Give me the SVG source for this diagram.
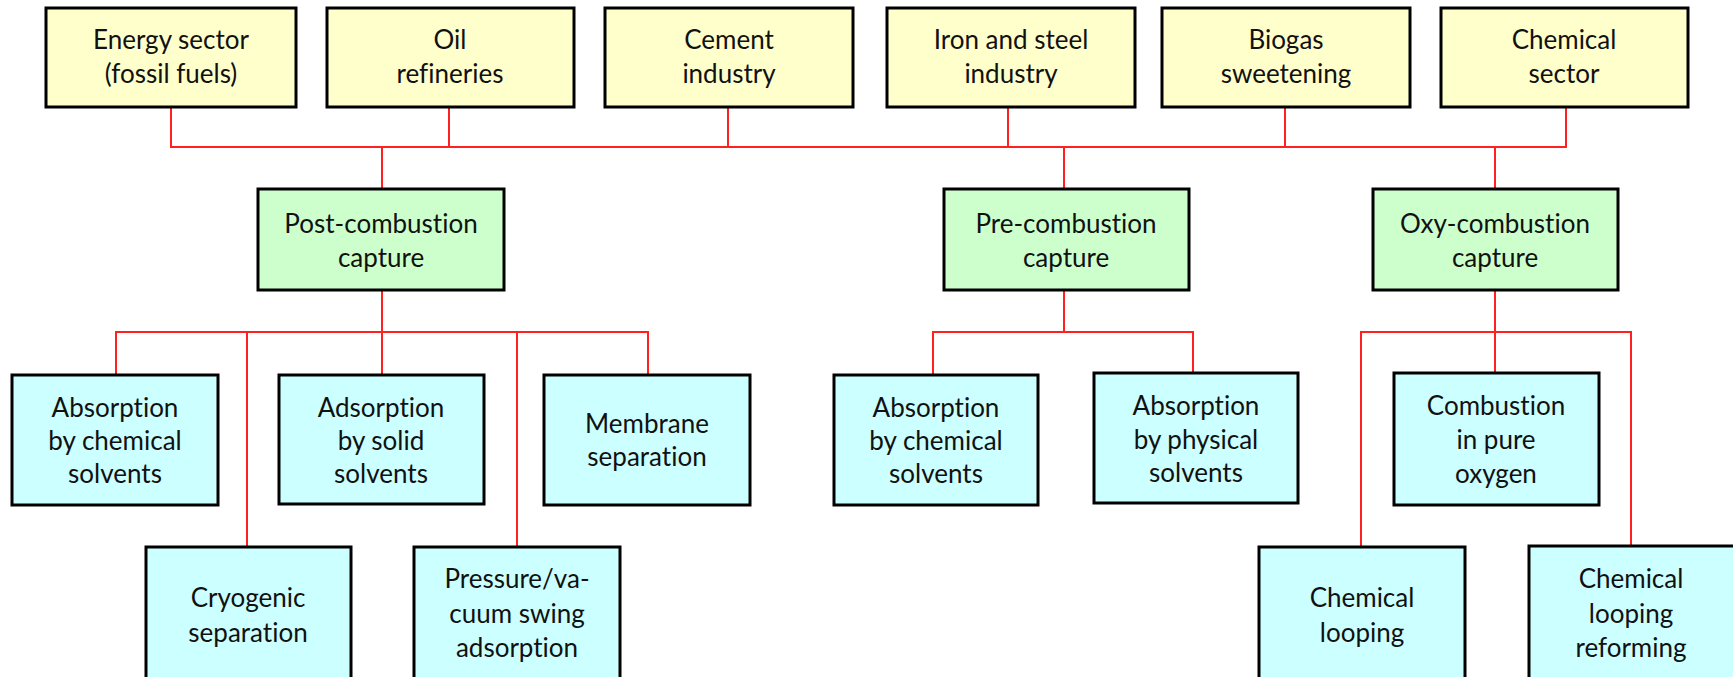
<svg xmlns="http://www.w3.org/2000/svg" width="1733" height="677" viewBox="0 0 1733 677">
<style>
.box{stroke:#000;stroke-width:3}
.y{fill:#FFFFCC}
.g{fill:#CCFFCC}
.c{fill:#CCFFFF}
text{font-family:Lato,"Liberation Sans",sans-serif;font-size:26px;fill:#111;text-anchor:middle;font-variant-ligatures:none;font-feature-settings:"liga" 0}
#connectors path{fill:none;stroke:#FF2020;stroke-width:2}
</style>
<rect width="1733" height="677" fill="#fff"/>
<g id="connectors">
<path d="M171 107V147H1566V107M449 107V147M728 107V147M1008 107V147M1285 107V147"/>
<path d="M382 147V189M1064 147V189M1495 147V189"/>
<path d="M382 290V332M116 375V332H648V375M247 332V547M382 332V375M517 332V547"/>
<path d="M1064 290V332M933 375V332H1193V373"/>
<path d="M1495 290V332M1361 547V332H1631V546M1495 332V373"/>
</g>
<g id="energy"><rect class="box y" x="46" y="8" width="250" height="99"/><text x="171" y="49">Energy sector</text><text x="171" y="83">(fossil fuels)</text></g>
<g id="oil"><rect class="box y" x="327" y="8" width="247" height="99"/><text x="450" y="49">Oil</text><text x="450" y="83">refineries</text></g>
<g id="cement"><rect class="box y" x="605" y="8" width="248" height="99"/><text x="729" y="49">Cement</text><text x="729" y="83">industry</text></g>
<g id="iron"><rect class="box y" x="887" y="8" width="248" height="99"/><text x="1011" y="49">Iron and steel</text><text x="1011" y="83">industry</text></g>
<g id="biogas"><rect class="box y" x="1162" y="8" width="248" height="99"/><text x="1286" y="49">Biogas</text><text x="1286" y="83">sweetening</text></g>
<g id="chemical"><rect class="box y" x="1441" y="8" width="247" height="99"/><text x="1564" y="49">Chemical</text><text x="1564" y="83">sector</text></g>
<g id="post"><rect class="box g" x="258" y="189" width="246" height="101"/><text x="381" y="233">Post-combustion</text><text x="381" y="267">capture</text></g>
<g id="pre"><rect class="box g" x="944" y="189" width="245" height="101"/><text x="1066" y="233">Pre-combustion</text><text x="1066" y="267">capture</text></g>
<g id="oxy"><rect class="box g" x="1373" y="189" width="245" height="101"/><text x="1495" y="233">Oxy-combustion</text><text x="1495" y="267">capture</text></g>
<g id="abs-chem-post"><rect class="box c" x="12" y="375" width="206" height="130"/><text x="115" y="417">Absorption</text><text x="115" y="450">by chemical</text><text x="115" y="483">solvents</text></g>
<g id="ads-solid"><rect class="box c" x="279" y="375" width="205" height="129"/><text x="381" y="417">Adsorption</text><text x="381" y="450">by solid</text><text x="381" y="483">solvents</text></g>
<g id="membrane"><rect class="box c" x="544" y="375" width="206" height="130"/><text x="647" y="433">Membrane</text><text x="647" y="466">separation</text></g>
<g id="cryogenic"><rect class="box c" x="146" y="547" width="205" height="140"/><text x="248" y="607">Cryogenic</text><text x="248" y="642">separation</text></g>
<g id="psa"><rect class="box c" x="414" y="547" width="206" height="140"/><text x="517" y="588">Pressure/va-</text><text x="517" y="623">cuum swing</text><text x="517" y="657">adsorption</text></g>
<g id="abs-chem-pre"><rect class="box c" x="834" y="375" width="204" height="130"/><text x="936" y="417">Absorption</text><text x="936" y="450">by chemical</text><text x="936" y="483">solvents</text></g>
<g id="abs-phys"><rect class="box c" x="1094" y="373" width="204" height="130"/><text x="1196" y="415">Absorption</text><text x="1196" y="449">by physical</text><text x="1196" y="482">solvents</text></g>
<g id="comb-o2"><rect class="box c" x="1394" y="373" width="205" height="132"/><text x="1496" y="415">Combustion</text><text x="1496" y="449">in pure</text><text x="1496" y="483">oxygen</text></g>
<g id="cl"><rect class="box c" x="1259" y="547" width="206" height="140"/><text x="1362" y="607">Chemical</text><text x="1362" y="642">looping</text></g>
<g id="clr"><rect class="box c" x="1529" y="546" width="210" height="140"/><text x="1631" y="588">Chemical</text><text x="1631" y="623">looping</text><text x="1631" y="657">reforming</text></g>
</svg>
